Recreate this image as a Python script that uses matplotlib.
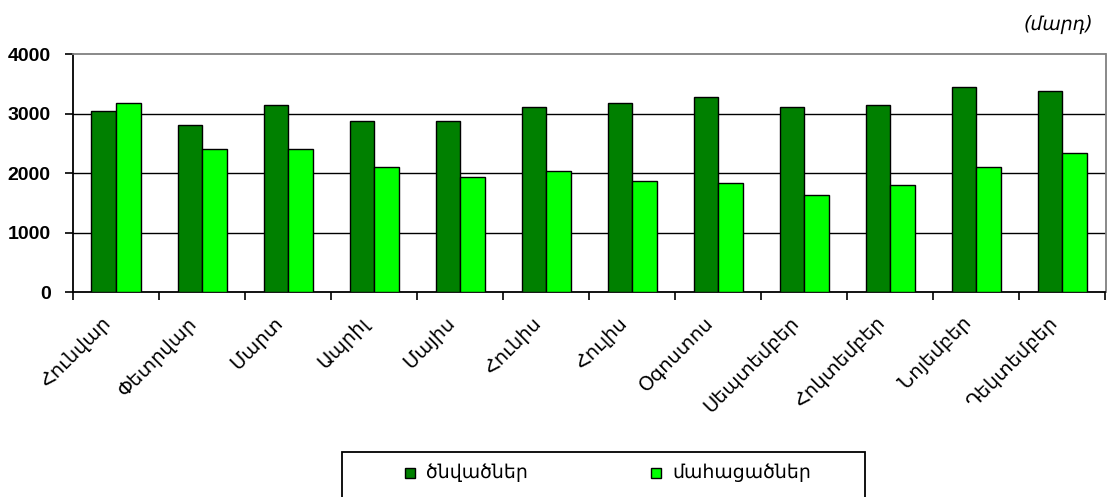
import matplotlib
matplotlib.use("Agg")
import matplotlib.pyplot as plt
from matplotlib.patches import Rectangle
from matplotlib.transforms import ScaledTranslation
import numpy as np

months = ["Հունվար", "Փետրվար", "Մարտ", "Ապրիլ", "Մայիս", "Հունիս",
          "Հուլիս", "Օգոստոս", "Սեպտեմբեր", "Հոկտեմբեր", "Նոյեմբեր", "Դեկտեմբեր"]
births = [3050, 2820, 3150, 2880, 2880, 3120, 3180, 3280, 3120, 3150, 3450, 3390]
deaths = [3180, 2410, 2410, 2110, 1940, 2040, 1870, 1840, 1640, 1800, 2110, 2340]
series_names = ["ծնվածներ", "մահացածներ"]
yticks = [0, 1000, 2000, 3000, 4000]
unit_label = "(մարդ)"

colors = ["#008000", "#00FF00"]
W, H = 1109, 497
fig = plt.figure(figsize=(W / 100, H / 100), dpi=100)
ax = fig.add_axes([73 / W, 1 - 292.3 / H, (1105.5 - 73) / W, (292.3 - 54.3) / H])

x = np.arange(len(months))
bw = 0.285
ax.bar(x - bw / 2, births, width=bw, color=colors[0], edgecolor="black", linewidth=1.0, zorder=3)
ax.bar(x + bw / 2, deaths, width=bw, color=colors[1], edgecolor="black", linewidth=1.0, zorder=3)

ax.set_xlim(-0.5, len(months) - 0.5)
ax.set_ylim(0, 4000)
ax.set_yticks(yticks)
ax.set_yticklabels([str(v) for v in yticks], fontfamily="Liberation Sans", fontweight="bold", fontsize=14)
for v in yticks[1:-1]:
    ax.axhline(v, color="black", linewidth=1.0, zorder=1)

ax.set_xticks(np.arange(len(months) + 1) - 0.5)
ax.set_xticklabels([])
ax.set_xticks(x, minor=True)
ax.set_xticklabels(months, minor=True, rotation=45, ha="right", va="center",
                   rotation_mode="anchor", fontfamily=["DejaVu Sans"], fontsize=14)
ax.tick_params(axis="x", which="minor", length=0, pad=20)
ax.tick_params(axis="x", which="major", length=6, width=1.2, direction="out")
ax.tick_params(axis="y", length=6, width=1.2, direction="out", pad=10)
off = ScaledTranslation(-8 / 100, 0, fig.dpi_scale_trans)
for lab in ax.get_xticklabels(minor=True):
    lab.set_transform(lab.get_transform() + off)

for s in ["left", "bottom"]:
    ax.spines[s].set_color("black")
    ax.spines[s].set_linewidth(1.3)
for s in ["top", "right"]:
    ax.spines[s].set_color("#808080")
    ax.spines[s].set_linewidth(1.3)

fig.text(1093 / W, 1 - 24 / H, unit_label, ha="right", va="center",
         fontstyle="italic", fontfamily=["DejaVu Sans"], fontsize=13.6)

# legend box
fig.patches.append(Rectangle((342 / W, -0.05), (865 - 342) / W, 0.05 + (497 - 452) / H,
                             transform=fig.transFigure, fill=False, edgecolor="black",
                             linewidth=1.3, figure=fig))
sq = 10
for name, c, sx in zip(series_names, colors, [405, 651]):
    yc = 472.5
    fig.patches.append(Rectangle((sx / W, 1 - (yc + sq / 2) / H), sq / W, sq / H,
                                 transform=fig.transFigure, facecolor=c, edgecolor="black",
                                 linewidth=1.0, figure=fig))
    fig.text((sx + sq + 11) / W, 1 - 478 / H, name, ha="left", va="baseline",
             fontfamily=["DejaVu Sans"], fontsize=13.6)

fig.savefig("out.png", dpi=100)
